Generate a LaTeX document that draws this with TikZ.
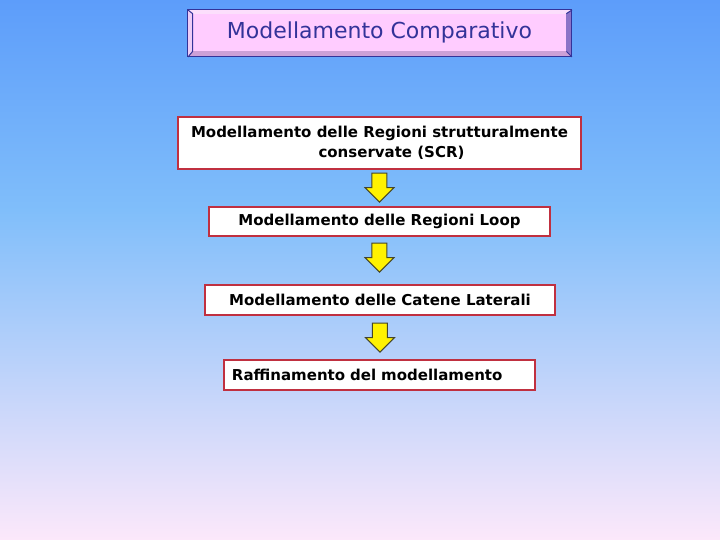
\documentclass[tikz,border=0pt]{standalone}
\usepackage{fontspec}
\setmainfont{DejaVu Sans}
\usetikzlibrary{positioning,shapes.arrows}

\definecolor{skytop}{RGB}{93,157,250}
\definecolor{skymid}{RGB}{128,190,250}
\definecolor{skylow}{RGB}{252,232,250}
\definecolor{titleface}{RGB}{255,204,255}
\definecolor{bevtop}{RGB}{252,222,252}
\definecolor{bevleft}{RGB}{238,204,246}
\definecolor{bevright}{RGB}{140,115,200}
\definecolor{bevbot}{RGB}{205,160,215}
\definecolor{titleink}{RGB}{51,51,153}
\definecolor{boxred}{RGB}{192,48,64}
\definecolor{arrowline}{RGB}{70,70,40}

\tikzset{
  titlebox/.style={fill=titleface, inner sep=0pt, minimum width=186.5pt, minimum height=18.5pt,
    text=titleink, font=\fontsize{11}{12}\selectfont},
  bevline/.style={draw=titleink, line width=0.5pt},
  stepbox/.style={draw=boxred, line width=0.6pt, fill=white, inner sep=0pt,
    font=\fontsize{7.5}{9.8}\selectfont\bfseries},
  downarrow/.style={single arrow, shape border rotate=270, draw=arrowline, fill=yellow,
    line width=0.5pt, inner sep=3.5pt, minimum height=14.5pt,
    single arrow head extend=3.5pt},
}

\begin{document}
\begin{tikzpicture}[x=0.5pt,y=-0.5pt]
\useasboundingbox (0,0) rectangle (720,540);
% background
\fill[top color=skytop,bottom color=skymid] (0,0) rectangle (720,211);
\fill[top color=skymid,bottom color=skylow] (0,210) rectangle (720,540);

% title plate
\fill[bevtop] (188,10) -- (572,10) -- (566,14) -- (193,14) -- cycle;
\fill[bevright] (572,10) -- (572,57) -- (566,51) -- (566,14) -- cycle;
\fill[bevbot] (572,57) -- (188,57) -- (193,51) -- (566,51) -- cycle;
\fill[bevleft] (188,57) -- (188,10) -- (193,14) -- (193,51) -- cycle;
\node[titlebox] (title) at (379.5,32.5) {Modellamento Comparativo};
\draw[bevline] (188,10) rectangle (572,57);
\draw[bevline] (188,10) -- (title.north west) -- (title.south west) -- (188,57);
\draw[bevline] (572,10) -- (title.north east);
\draw[bevline] (572,57) -- (title.south east);

% steps
\node[stepbox, minimum width=201.5pt, minimum height=26pt, align=center] (scr) at (379.5,143)
  {Modellamento delle Regioni strutturalmente\\\hspace*{12pt}conservate (SCR)};
\node[stepbox, minimum width=170.5pt, minimum height=14.5pt] (loop) at (379.5,221.5)
  {Modellamento delle Regioni Loop};
\node[stepbox, minimum width=175pt, minimum height=15pt] (side) at (380,300)
  {Modellamento delle Catene Laterali};
\node[stepbox, minimum height=15pt, text width=147.5pt, inner xsep=4pt, align=left] (refine) at (379.5,375)
  {Raffinamento del modellamento};

% arrows
\node[downarrow, below=1.5pt of scr] (a1) {};
\node[downarrow, below=3pt of loop] (a2) {};
\node[downarrow, below=3.5pt of side] (a3) {};
\end{tikzpicture}
\end{document}
